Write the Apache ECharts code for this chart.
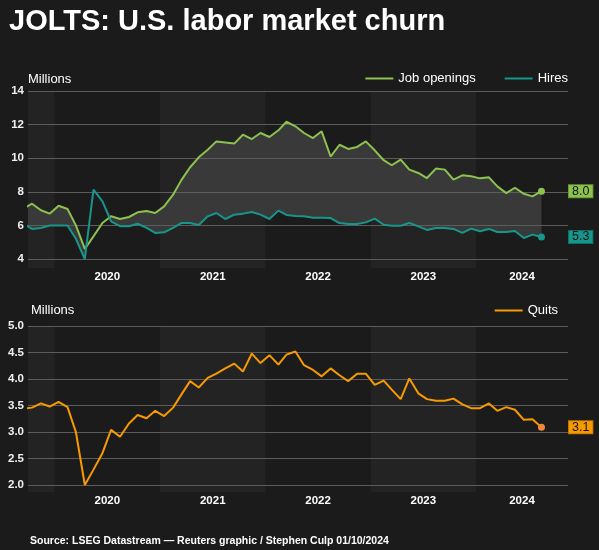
<!DOCTYPE html>
<html><head><meta charset="utf-8">
<script src="https://cdn.jsdelivr.net/npm/echarts@6/dist/echarts.min.js"></script>
<style>html,body{margin:0;padding:0;background:#1b1b1b}#c{width:599px;height:550px}</style>
</head><body><div id="c"></div>
<script>
// Monthly data, Sep 2019 .. Aug 2024 (millions)
const firstMonth = { year: 2019, month: 9 };
const openings = [
  7.0, 7.29, 6.9, 6.7,
  7.17, 6.98, 6.0, 4.6, 5.35, 6.14, 6.54, 6.38, 6.5, 6.78, 6.86, 6.74,
  7.13, 7.83, 8.68, 9.46, 10.05, 10.5, 11.0, 10.94, 10.87, 11.4, 11.14, 11.5,
  11.26, 11.66, 12.17, 11.9, 11.5, 11.2, 11.6, 10.1, 10.8, 10.55, 10.67, 11.0,
  10.47, 9.88, 9.58, 9.92, 9.32, 9.12, 8.82, 9.38, 9.32, 8.72, 8.98, 8.92,
  8.8, 8.86, 8.32, 7.92, 8.24, 7.88, 7.73, 8.04
];
const hires = [
  6.1, 5.79, 5.85, 5.99,
  5.99, 5.99, 5.2, 4.0, 8.13, 7.43, 6.24, 5.95, 5.95, 6.1, 5.85, 5.55,
  5.59, 5.85, 6.14, 6.14, 6.02, 6.54, 6.74, 6.38, 6.64, 6.7, 6.8, 6.64,
  6.38, 6.88, 6.62, 6.56, 6.54, 6.46, 6.46, 6.44, 6.14, 6.08, 6.08, 6.18,
  6.4, 6.04, 5.98, 5.98, 6.14, 5.94, 5.73, 5.85, 5.85, 5.79, 5.55, 5.81,
  5.65, 5.79, 5.61, 5.61, 5.67, 5.25, 5.45, 5.31
];
const quits = [
  3.44, 3.46, 3.54, 3.48,
  3.57, 3.47, 3.0, 2.0, 2.29, 2.6, 3.04, 2.91, 3.16, 3.32, 3.26, 3.4,
  3.30, 3.46, 3.70, 3.96, 3.84, 4.02, 4.10, 4.2, 4.29, 4.14, 4.48, 4.30,
  4.45, 4.27, 4.46, 4.52, 4.26, 4.17, 4.05, 4.2, 4.07, 3.96, 4.1, 4.1,
  3.89, 3.97, 3.8, 3.62, 4.01, 3.73, 3.62, 3.59, 3.59, 3.63, 3.52, 3.45,
  3.45, 3.54, 3.40, 3.47, 3.42, 3.23, 3.24, 3.09
];
const yearLabels = [2020, 2021, 2022, 2023, 2024];
const shadedYears = [2019, 2021, 2023];
const topAxis = { min: 4, max: 14, interval: 2 };
const bottomAxis = { min: 2, max: 5, interval: 0.5 };
const seriesNames = { openings: 'Job openings', hires: 'Hires', quits: 'Quits' };

const GREEN = '#8cc24f', TEAL = '#17968b', ORANGE = '#f79a00';
const FONT = 'Liberation Sans, Arial, sans-serif';

const xMin = Date.UTC(2019, 9, 1);
const xMax = Date.UTC(2024, 10, 15);
function ts(i) { return Date.UTC(firstMonth.year, firstMonth.month - 1 + i, 15); }
function pairs(arr) { return arr.map((v, i) => [ts(i), v]); }
function withEndDot(arr, size, dotColor) {
  const d = pairs(arr);
  const last = d.length - 1;
  d[last] = { value: d[last], symbol: 'circle', symbolSize: size, itemStyle: { color: dotColor } };
  return d;
}
const labelPos = yearLabels.map(y => {
  const a = Math.max(Date.UTC(y, 0, 1), xMin);
  const b = Math.min(Date.UTC(y + 1, 0, 1), xMax);
  return (a + b) / 2;
});
const bands = shadedYears.map(y => [
  { xAxis: Math.max(Date.UTC(y, 0, 1), xMin) },
  { xAxis: Math.min(Date.UTC(y + 1, 0, 1), xMax) }
]);

function bandSeries(g) {
  return {
    type: 'line', xAxisIndex: g, yAxisIndex: g, data: [[xMin, 0], [xMax, 0]],
    symbol: 'none', lineStyle: { width: 0, color: 'rgba(0,0,0,0)' }, silent: true, z: 1,
    markArea: { silent: true, itemStyle: { color: '#232323' }, data: bands }
  };
}
function endLabel(color, border, value) {
  return {
    silent: true, symbol: 'none', lineStyle: { width: 0, color: 'rgba(0,0,0,0)', type: 'solid' },
    label: {
      show: true, position: 'end', distance: 1, color: '#151515', fontSize: 12.5, lineHeight: 12,
      fontFamily: FONT,
      backgroundColor: color, borderColor: border, borderWidth: 1, padding: [0, 3, 0, 3],
      formatter: p => Number(p.value).toFixed(1)
    },
    emphasis: { disabled: true },
    data: [{ yAxis: value }]
  };
}
function mainLine(name, arr, color, border, g, dotColor) {
  return {
    name, type: 'line', xAxisIndex: g, yAxisIndex: g, data: withEndDot(arr, 7, dotColor || color),
    symbol: 'none', showSymbol: true, z: 3,
    lineStyle: { color, width: 2 }, itemStyle: { color },
    emphasis: { disabled: true },
    markLine: endLabel(color, border, arr[arr.length - 1])
  };
}
function xAxisBand(g, margin) {
  return {
    type: 'value', gridIndex: g, min: xMin, max: xMax,
    axisLine: { show: false }, axisTick: { show: false }, splitLine: { show: false },
    axisLabel: {
      customValues: labelPos, color: '#fff', fontWeight: 'bold', fontSize: 11.5, margin,
      fontFamily: FONT, formatter: v => String(new Date(v).getUTCFullYear())
    }
  };
}
function xAxisMain(g) {
  return { type: 'time', gridIndex: g, min: xMin, max: xMax, show: false };
}
function yAxisMain(g, ax, digits) {
  return {
    type: 'value', gridIndex: g, min: ax.min, max: ax.max, interval: ax.interval, z: 2,
    axisLine: { show: false }, axisTick: { show: false },
    splitLine: { lineStyle: { color: '#5c5c5c', width: 1 } },
    axisLabel: { color: '#f0f0f0', fontWeight: 'bold', fontSize: 11.5, margin: 4, fontFamily: FONT,
      formatter: v => v.toFixed(digits) }
  };
}

const gap = openings.map((v, i) => Math.max(0, v - hires[i]));

const option = {
  backgroundColor: '#1b1b1b',
  animation: false,
  textStyle: { fontFamily: FONT },
  title: [
    { text: 'JOLTS: U.S. labor market churn', left: 9, top: 7, padding: 0,
      textStyle: { color: '#fff', fontSize: 29, fontWeight: 'bold', fontFamily: FONT } },
    { text: 'Millions', left: 28, top: 73, padding: 0,
      textStyle: { color: '#fff', fontSize: 13, fontWeight: 'normal', fontFamily: FONT } },
    { text: 'Millions', left: 31, top: 304, padding: 0,
      textStyle: { color: '#fff', fontSize: 13, fontWeight: 'normal', fontFamily: FONT } },
    { text: 'Source: LSEG Datastream \u2014 Reuters graphic / Stephen Culp 01/10/2024', left: 30, top: 536, padding: 0,
      textStyle: { color: '#fff', fontSize: 10.5, fontWeight: 'bold', fontFamily: FONT } }
  ],
  legend: [
    { data: [seriesNames.openings, seriesNames.hires], right: 31, top: 72, padding: 0,
      icon: 'rect', itemWidth: 28, itemHeight: 2, itemGap: 29,
      textStyle: { color: '#fff', fontSize: 13, fontFamily: FONT } },
    { data: [seriesNames.quits], right: 41, top: 304, padding: 0,
      icon: 'rect', itemWidth: 28, itemHeight: 2,
      textStyle: { color: '#fff', fontSize: 13, fontFamily: FONT } }
  ],
  grid: [
    { left: 28, right: 31, top: 91, bottom: 282 },
    { left: 28, right: 31, top: 91, bottom: 291 },
    { left: 28, right: 31, top: 326, bottom: 58 },
    { left: 28, right: 31, top: 326, bottom: 65 }
  ],
  xAxis: [xAxisBand(0, 3), xAxisMain(1), xAxisBand(2, 3), xAxisMain(3)],
  yAxis: [
    { type: 'value', gridIndex: 0, min: 0, max: 1, show: false },
    yAxisMain(1, topAxis, 0),
    { type: 'value', gridIndex: 2, min: 0, max: 1, show: false },
    yAxisMain(3, bottomAxis, 1)
  ],
  series: [
    bandSeries(0),
    { type: 'line', xAxisIndex: 1, yAxisIndex: 1, stack: 'gap', data: pairs(hires),
      symbol: 'none', lineStyle: { width: 0, color: 'rgba(0,0,0,0)' }, silent: true, z: 1 },
    { type: 'line', xAxisIndex: 1, yAxisIndex: 1, stack: 'gap', data: pairs(gap),
      symbol: 'none', lineStyle: { width: 0, color: 'rgba(0,0,0,0)' }, silent: true, z: 1,
      areaStyle: { color: '#393939', opacity: 1 } },
    mainLine(seriesNames.openings, openings, GREEN, '#6a9a37', 1),
    mainLine(seriesNames.hires, hires, TEAL, '#0f6e66', 1),
    bandSeries(2),
    mainLine(seriesNames.quits, quits, ORANGE, '#c07800', 3, '#f0883c')
  ]
};
echarts.init(document.getElementById('c')).setOption(option);
</script>
</body></html>
